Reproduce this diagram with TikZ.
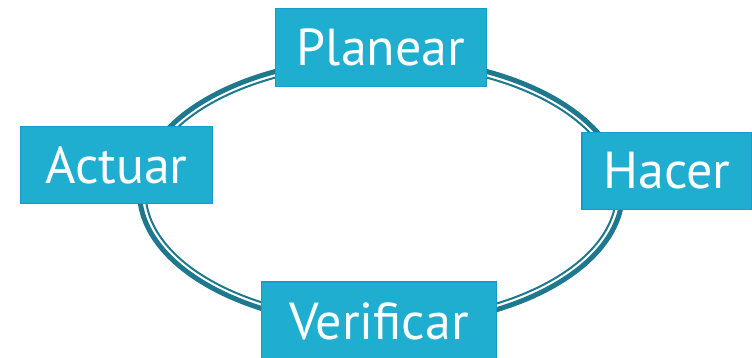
\documentclass[tikz,border=0pt]{standalone}
\usepackage{fontspec}
\setmainfont{PT Sans}
\usepackage{xcolor}
\definecolor{boxfill}{RGB}{31,174,208}
\definecolor{boxline}{RGB}{20,156,204}
\definecolor{ringcol}{RGB}{30,120,142}
\tikzset{
  phase/.style={draw=boxline, line width=1.5pt, fill=boxfill, text=white,
    inner sep=0pt, font=\fontsize{52}{58}\selectfont},
}

\begin{document}
\begin{tikzpicture}[x=1pt,y=-1pt]
\useasboundingbox (0,0) rectangle (752,357);
%ring
\coordinate (c) at (381,192);
\draw[ringcol, line width=5pt] (c) ellipse [x radius=241.5, y radius=134];
\draw[ringcol, line width=2pt] (c) ellipse [x radius=235.5, y radius=128];
%phases
\node[phase, minimum width=211pt, minimum height=78pt] (plan) at (381,47.5) {Planear};
\node[phase, minimum width=170pt, minimum height=77pt] (hacer) at (667,171) {Hacer};
\node[phase, minimum width=192pt, minimum height=77pt] (actuar) at (116.5,165) {Actuar};
\node[phase, minimum width=235pt, minimum height=78pt] (verif) at (379,321) {Verificar};
\end{tikzpicture}
\end{document}
